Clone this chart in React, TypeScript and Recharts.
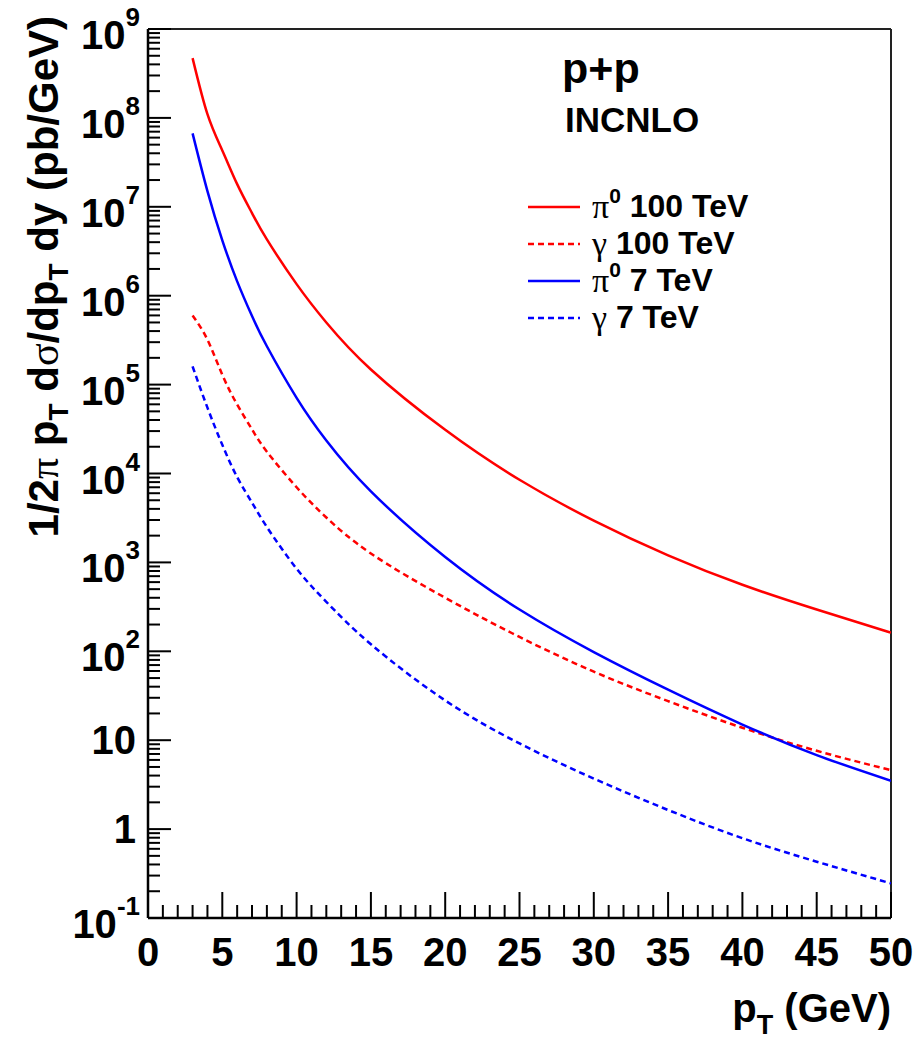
import React from "react";
import { LineChart, Line, XAxis, YAxis, Legend, ReferenceLine, Label } from "recharts";

// pT grid (GeV) and the four INCNLO curves
const pt = [3, 4, 5, 6, 7, 8, 10, 12, 15, 20, 25, 30, 35, 40, 45, 50];
const pi0At100 = [4.7e8, 1.1e8, 4.3e7, 1.8e7, 8.5e6, 4.3e6, 1.35e6, 5.0e5, 1.48e5, 3.1e4, 8.5e3, 2.95e3, 1.2e3, 560, 295, 162];
const gammaAt100 = [6.0e5, 3.2e5, 1.29e5, 5.96e4, 3.13e4, 1.76e4, 7.0e3, 3.2e3, 1.26e3, 400, 145, 59, 27.5, 13.8, 7.6, 4.6];
const pi0At7 = [6.7e7, 1.5e7, 4.2e6, 1.45e6, 5.9e5, 2.7e5, 7.1e4, 2.35e4, 6.3e3, 1.15e3, 295, 98, 37, 15, 6.8, 3.5];
const gammaAt7 = [1.6e5, 5.5e4, 2.1e4, 9.1e3, 4.7e3, 2.5e3, 850, 360, 120, 28, 9.2, 3.7, 1.64, 0.79, 0.43, 0.245];

// axis ticks
const xTicks = Array.from({ length: 51 }, (_, i) => i);
const yDecades = [-1, 0, 1, 2, 3, 4, 5, 6, 7, 8, 9];
const yTicks = yDecades.flatMap((d) =>
  d === 9 ? [1e9] : [1, 2, 3, 4, 5, 6, 7, 8, 9].map((m) => m * Math.pow(10, d))
);

const series = [
  { key: "pi100", particle: "π", sup: "0", energy: "100 TeV", color: "#ff0000", dash: undefined },
  { key: "gam100", particle: "γ", sup: "", energy: "100 TeV", color: "#ff0000", dash: "6 4" },
  { key: "pi7", particle: "π", sup: "0", energy: "7 TeV", color: "#0000ff", dash: undefined },
  { key: "gam7", particle: "γ", sup: "", energy: "7 TeV", color: "#0000ff", dash: "6 4" },
];

const data = pt.map((p, i) => ({
  pt: p,
  pi100: pi0At100[i],
  gam100: gammaAt100[i],
  pi7: pi0At7[i],
  gam7: gammaAt7[i],
}));

const SANS = "'Liberation Sans', Arial, Helvetica, sans-serif";
const SERIF = "'Liberation Serif', 'Times New Roman', serif";

const YTick = (props: any) => {
  const { x, y, payload } = props;
  const v = payload.value;
  const lg = Math.log10(v);
  const e = Math.round(lg);
  const major = Math.abs(lg - e) < 1e-6;
  return (
    <g>
      <line x1={x} x2={x + (major ? 23 : 12)} y1={y} y2={y} stroke="#000" strokeWidth={2} />
      {major && (e === 0 || e === 1) && (
        <text x={x - 12} y={y + 14} textAnchor="end" fontFamily={SANS} fontWeight="bold" fontSize={40} fill="#000">
          {e === 0 ? "1" : "10"}
        </text>
      )}
      {major && e !== 0 && e !== 1 && (
        <text x={x - 8} y={y + 20} textAnchor="end" fontFamily={SANS} fontWeight="bold" fontSize={40} fill="#000">
          10
          <tspan dy={-23} fontSize={26}>
            {String(e)}
          </tspan>
        </text>
      )}
    </g>
  );
};

const XTick = (props: any) => {
  const { x, y, payload } = props;
  const v = payload.value;
  const major = v % 5 === 0;
  return (
    <g>
      <line x1={x} x2={x} y1={y} y2={y - (major ? 26 : 13)} stroke="#000" strokeWidth={2} />
      {major && (
        <text x={x} y={y + 48} textAnchor="middle" fontFamily={SANS} fontWeight="bold" fontSize={40} fill="#000">
          {v}
        </text>
      )}
    </g>
  );
};

const YTitle = () => (
  <text
    transform="translate(58,16) rotate(-90)"
    x={0}
    y={0}
    textAnchor="end"
    fontFamily={SANS}
    fontWeight="bold"
    fontSize={42}
    fill="#000"
  >
    1/2<tspan fontFamily={SERIF} fontWeight="normal">π</tspan> p
    <tspan dy={10} fontSize={28}>T</tspan>
    <tspan dy={-10}> d</tspan>
    <tspan fontFamily={SERIF} fontWeight="normal">σ</tspan>/dp
    <tspan dy={10} fontSize={28}>T</tspan>
    <tspan dy={-10}> dy (pb/GeV)</tspan>
  </text>
);

const XTitle = () => (
  <text x={891} y={1022} textAnchor="end" fontFamily={SANS} fontWeight="bold" fontSize={40} fill="#000">
    p<tspan dy={12} fontSize={27}>T</tspan>
    <tspan dy={-12}> (GeV)</tspan>
  </text>
);

const LegendBox = (props: any) => {
  const { payload } = props;
  const keys = (payload || []).map((item: any) => item.dataKey);
  return (
    <div style={{ fontFamily: SANS, fontWeight: "bold", fontSize: 32, color: "#000" }}>
      {series
        .filter((s) => keys.includes(s.key))
        .map((s) => (
          <div key={s.key} style={{ display: "flex", alignItems: "center", height: 37, whiteSpace: "nowrap" }}>
            <svg width={52} height={6} style={{ marginRight: 12 }}>
              <line x1={0} x2={52} y1={3} y2={3} stroke={s.color} strokeWidth={2.5} strokeDasharray={s.dash} />
            </svg>
            <span style={{ fontFamily: SERIF, fontWeight: "normal", fontSize: 34 }}>{s.particle}</span>
            {s.sup && <span style={{ fontSize: 21, position: "relative", top: -11 }}>{s.sup}</span>}
            <span>&nbsp;{s.energy}</span>
          </div>
        ))}
    </div>
  );
};

const App = () => {
  return (
    <div style={{ position: "absolute", left: 0, top: 0, width: 916, height: 1039, background: "#fff" }}>
      <LineChart width={916} height={1039} data={data} margin={{ top: 29, right: 25, bottom: 0, left: 0 }}>
        <XAxis
          dataKey="pt"
          type="number"
          domain={[0, 50]}
          ticks={xTicks}
          interval={0}
          height={121}
          tickSize={0}
          tickMargin={0}
          tickLine={false}
          tick={<XTick />}
          axisLine={{ stroke: "#000", strokeWidth: 2.5 }}
          allowDataOverflow
        >
          <Label content={<XTitle />} />
        </XAxis>
        <YAxis
          type="number"
          scale="log"
          domain={[0.1, 1e9]}
          ticks={yTicks}
          interval={0}
          width={148}
          tickSize={0}
          tickMargin={0}
          tickLine={false}
          tick={<YTick />}
          axisLine={{ stroke: "#000", strokeWidth: 2.5 }}
          allowDataOverflow
        >
          <Label content={<YTitle />} />
        </YAxis>
        <ReferenceLine y={1e9} stroke="#222" strokeWidth={2} />
        <ReferenceLine x={50} stroke="#222" strokeWidth={2} />
        {series.map((s) => (
          <Line
            key={s.key}
            dataKey={s.key}
            type="natural"
            stroke={s.color}
            strokeWidth={2.5}
            strokeDasharray={s.dash}
            dot={false}
            activeDot={false}
            isAnimationActive={false}
          />
        ))}
        <Legend
          layout="vertical"
          align="center"
          verticalAlign="middle"
          content={<LegendBox />}
          wrapperStyle={{ left: 528, top: 188, width: 300, height: 150 }}
        />
      </LineChart>
      <svg
        width={916}
        height={1039}
        style={{ position: "absolute", left: 0, top: 0, pointerEvents: "none" }}
      >
        <text x={562} y={83} fontFamily={SANS} fontWeight="bold" fontSize={43} fill="#000">
          p+p
        </text>
        <text x={565} y={132} fontFamily={SANS} fontWeight="bold" fontSize={35} fill="#000">
          INCNLO
        </text>
      </svg>
    </div>
  );
};

export default App;
